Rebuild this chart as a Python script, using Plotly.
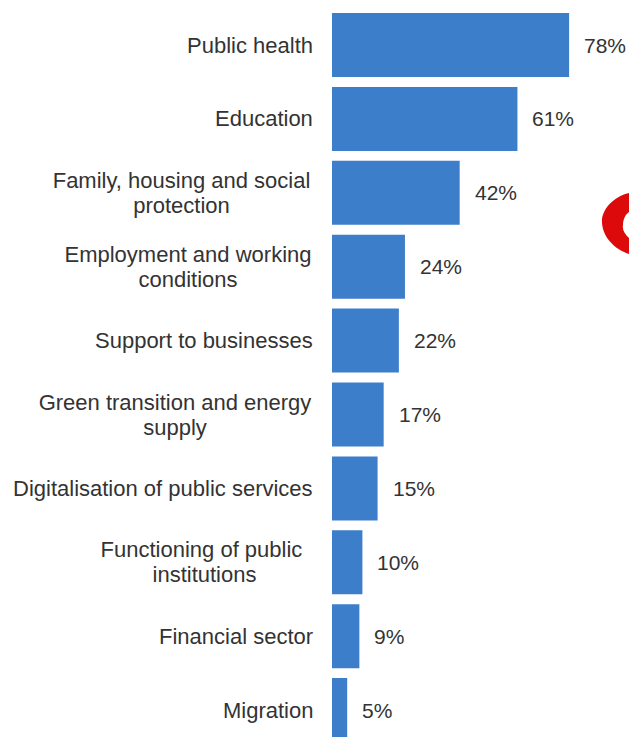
import plotly.graph_objects as go

categories = [
    ["Public health"],
    ["Education"],
    ["Family, housing and social", "protection"],
    ["Employment and working", "conditions"],
    ["Support to businesses"],
    ["Green transition and energy", "supply"],
    ["Digitalisation of public services"],
    ["Functioning of public\u00a0", "institutions"],
    ["Financial sector"],
    ["Migration"],
]
values = [78, 61, 42, 24, 22, 17, 15, 10, 9, 5]
value_labels = [f"{v}%" for v in values]

W, H = 629, 737
L = 332
BAR = "#3d7ecb"
TXT = "#333333"
FONT = "Liberation Sans, Arial, sans-serif"
LINE_GAP = 25

ycats = list(range(len(categories)))

fig = go.Figure(
    go.Bar(
        x=values,
        y=ycats,
        orientation="h",
        marker=dict(color=BAR, line=dict(width=0)),
        hoverinfo="skip",
    )
)

# approximate widths of the multi-line label blocks (to centre their lines)
block_w = {2: 259, 3: 246, 5: 272, 7: 213}

annotations = []
for i, (lines, v, t) in enumerate(zip(categories, values, value_labels)):
    if len(lines) == 1:
        annotations.append(dict(
            x=0, xref="paper", y=i, yref="y", text=lines[0], showarrow=False,
            xanchor="right", yanchor="middle", xshift=-17, align="right",
            font=dict(family=FONT, size=22, color=TXT),
        ))
    else:
        n = len(lines)
        for k, ln in enumerate(lines):
            annotations.append(dict(
                x=0, xref="paper", y=i, yref="y", text=ln, showarrow=False,
                xanchor="right", yanchor="middle", xshift=-15,
                yshift=LINE_GAP * ((n - 1) / 2 - k),
                width=block_w[i] + 8, align="center",
                font=dict(family=FONT, size=22, color=TXT),
            ))
    annotations.append(dict(
        x=v, xref="x", y=i, yref="y", text=t, showarrow=False,
        xanchor="left", yanchor="middle", xshift=13,
        font=dict(family=FONT, size=21, color=TXT),
    ))

pw = W - L
pitch = 73.9
top_center = 45
def px(x):
    return (x - L) / pw
def py(y):
    return 1 - y / H

# decorative red logo fragment at the right edge
pts_outer = [(629, 193), (612, 197), (601, 211), (602, 223), (603, 237), (614, 249), (629, 254)]
pts_inner = [(629, 238), (625, 234), (622, 230), (623, 225), (623, 220), (625, 215), (629, 212)]
def p(pt):
    return f"{px(pt[0]):.5f},{py(pt[1]):.5f}"
path = (
    f"M {p(pts_outer[0])} C {p(pts_outer[1])} {p(pts_outer[2])} {p(pts_outer[3])} "
    f"C {p(pts_outer[4])} {p(pts_outer[5])} {p(pts_outer[6])} "
    f"L {p((640, 254))} L {p((640, 238))} L {p(pts_inner[0])} "
    f"C {p(pts_inner[1])} {p(pts_inner[2])} {p(pts_inner[3])} "
    f"C {p(pts_inner[4])} {p(pts_inner[5])} {p(pts_inner[6])} "
    f"L {p((640, 212))} L {p((640, 193))} Z"
)

y_top = -top_center / pitch
y_bot = 9 + (H - (top_center + 9 * pitch)) / pitch

fig.update_layout(
    width=W, height=H,
    margin=dict(l=L, r=0, t=0, b=0, pad=0),
    paper_bgcolor="white", plot_bgcolor="white",
    bargap=0.134,
    showlegend=False,
    xaxis=dict(range=[0, pw / 3.04], visible=False, fixedrange=True),
    yaxis=dict(range=[y_bot, y_top], visible=False, fixedrange=True),
    annotations=annotations,
    shapes=[dict(type="path", xref="paper", yref="paper", path=path,
                 fillcolor="#dc0a0a", line=dict(width=0), layer="above")],
)

post = (
    "document.documentElement.style.margin='0';"
    "document.documentElement.style.overflow='hidden';"
    "document.body.style.margin='0';"
    "document.body.style.padding='0';"
    "document.body.style.overflow='hidden';"
)

fig.write_html("out.html", config={"displayModeBar": False}, post_script=post)
